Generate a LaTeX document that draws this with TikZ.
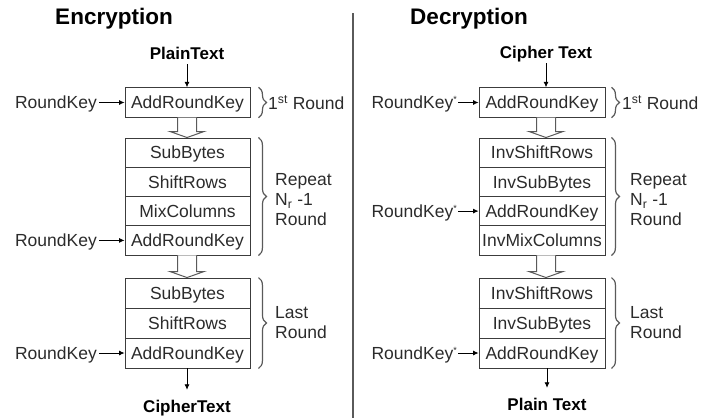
\documentclass[tikz,border=0pt]{standalone}
\usepackage{fontspec}
\setmainfont{Liberation Sans}
\usetikzlibrary{calc,arrows.meta,decorations.pathreplacing}

\definecolor{ink}{HTML}{2B2B2B}
\definecolor{boxgray}{HTML}{3C3C3C}
\definecolor{bracegray}{HTML}{5A5A5A}
\definecolor{arrowgray}{HTML}{5A5A5A}

\tikzset{
  stage/.style={draw=boxgray, line width=0.9pt, minimum width=125pt,
    minimum height=29.3pt, inner sep=0pt, text=ink,
    font=\fontsize{17.5}{20}\selectfont, text height=16pt, text depth=3.5pt},
  keylabel/.style={anchor=east, text=ink, inner ysep=0pt, inner xsep=2pt,
    font=\fontsize{17.5}{20}\selectfont, text height=16pt, text depth=3.5pt},
  io/.style={anchor=base, font=\bfseries\fontsize{17}{20}\selectfont,
    inner sep=1pt, text height=21pt, text depth=4pt},
  heading/.style={anchor=base, font=\bfseries\fontsize{22.5}{26}\selectfont},
  note/.style={anchor=west, align=left, text=ink, inner sep=0pt,
    font=\fontsize{17.5}{20}\selectfont},
  flow/.style={-{Latex[length=5.5pt,width=5pt]}, line width=0.8pt, draw=black},
  hollow/.style={draw=arrowgray, fill=white, line width=1pt, line join=miter},
  grp/.style={decorate, decoration={brace, amplitude=8pt}, draw=bracegray,
    line width=1.2pt},
  divider/.style={draw=bracegray, line width=1.4pt},
  seam/.style={draw=boxgray, line width=1.8pt},
}

% small raised star used on the decryption round keys
\newcommand\keystar{\raisebox{6pt}{\fontsize{9}{9}\selectfont *}}

% block arrow from the bottom of one stage to the top of the next
\newcommand\hollowarrow[3]{%
  \draw[hollow] let \p1=(#3 |- #1.south), \p2=(#3 |- #2.north) in
    (\x1-9.5pt,\y1) -- (\x1-9.5pt,\y2+6pt) -- (\x1-17pt,\y2+6pt) --
    (\x1,\y2) -- (\x1+17pt,\y2+6pt) -- (\x1+9.5pt,\y2+6pt) -- (\x1+9.5pt,\y1);}

\begin{document}
\begin{tikzpicture}[x=1pt,y=-1pt]
\useasboundingbox (0,0) rectangle (701,418);

% ---------------- Encryption ----------------
\node[heading] (enc) at (114,24) {Encryption};
\node[io] (ept) at (187,59) {PlainText};

\node[stage, minimum height=29.5pt] (e1) at (187.5,102.5) {AddRoundKey};

\node[stage, minimum height=29.25pt] (e2) at (187.5,152.6) {SubBytes};
\node[stage, minimum height=29.25pt] (e3) at (187.5,181.9) {ShiftRows};
\node[stage, minimum height=29.25pt] (e4) at (187.5,211.1) {MixColumns};
\node[stage, minimum height=29.25pt] (e5) at (187.5,240.4) {AddRoundKey};

\node[stage, minimum height=30pt] (e6) at (187.5,293) {SubBytes};
\node[stage, minimum height=30pt] (e7) at (187.5,323) {ShiftRows};
\node[stage, minimum height=30pt] (e8) at (187.5,353) {AddRoundKey};
\draw[seam] (e6.south west) -- (e6.south east);

\node[io] (ect) at (187,412) {CipherText};

\node[keylabel] (ke1) at (99,102.5) {RoundKey};
\node[keylabel] (ke5) at (99,240.4) {RoundKey};
\node[keylabel] (ke8) at (99,353) {RoundKey};

\draw[flow] (ept) -- (ept |- e1.north);
\draw[flow] (ke1) -- (e1);
\draw[flow] (ke5) -- (e5);
\draw[flow] (ke8) -- (e8);
\draw[flow] (ept |- e8.south) -- (ect);

\hollowarrow{e1}{e2}{ept}
\hollowarrow{e5}{e6}{ept}

\draw[grp] ($(e1.north east)+(8,0)$) -- ($(e1.south east)+(8,0)$);
\draw[grp] ($(e2.north east)+(8,0)$) -- ($(e5.south east)+(8,0)$);
\draw[grp] ($(e6.north east)+(8,0)$) -- ($(e8.south east)+(8,0)$);

\node[note] (en1) at (268,102.5) {1\textsuperscript{st} Round};
\node[note] (en2) at (275,200) {Repeat\\N\textsubscript{r} -1\\Round};
\node[note] (en3) at (275,323) {Last\\Round};

% ---------------- divider ----------------
\draw[divider] (353,13) -- (353,418);

% ---------------- Decryption ----------------
\node[heading] (dec) at (469,24) {Decryption};
\node[io] (dct) at (546,58) {Cipher Text};

\node[stage, minimum width=126pt, minimum height=29.5pt] (d1) at (542,102.5) {AddRoundKey};

\node[stage, minimum width=126pt, minimum height=29.25pt] (d2) at (542,152.6) {InvShiftRows};
\node[stage, minimum width=126pt, minimum height=29.25pt] (d3) at (542,181.9) {InvSubBytes};
\node[stage, minimum width=126pt, minimum height=29.25pt] (d4) at (542,211.1) {AddRoundKey};
\node[stage, minimum width=126pt, minimum height=29.25pt] (d5) at (542,240.4) {InvMixColumns};

\node[stage, minimum width=126pt, minimum height=30pt] (d6) at (542,293) {InvShiftRows};
\node[stage, minimum width=126pt, minimum height=30pt] (d7) at (542,323) {InvSubBytes};
\node[stage, minimum width=126pt, minimum height=30pt] (d8) at (542,353) {AddRoundKey};
\draw[seam] (d6.south west) -- (d6.south east);

\node[io] (dpt) at (547,410) {Plain Text};

\node[keylabel, inner xsep=1pt] (kd1) at (458,102.5) {RoundKey\keystar};
\node[keylabel, inner xsep=1pt] (kd4) at (458,211.1) {RoundKey\keystar};
\node[keylabel, inner xsep=1pt] (kd8) at (458,353) {RoundKey\keystar};

\draw[flow] (dct) -- (dct |- d1.north);
\draw[flow] (kd1) -- (d1);
\draw[flow] (kd4) -- (d4);
\draw[flow] (kd8) -- (d8);
\draw[flow] (dpt |- d8.south) -- (dpt);

\hollowarrow{d1}{d2}{dct}
\hollowarrow{d5}{d6}{dct}

\draw[grp] ($(d1.north east)+(6,0)$) -- ($(d1.south east)+(6,0)$);
\draw[grp] ($(d2.north east)+(6,0)$) -- ($(d5.south east)+(6,0)$);
\draw[grp] ($(d6.north east)+(6,0)$) -- ($(d8.south east)+(6,0)$);

\node[note] (dn1) at (622,102.5) {1\textsuperscript{st} Round};
\node[note] (dn2) at (630,200) {Repeat\\N\textsubscript{r} -1\\Round};
\node[note] (dn3) at (630,323) {Last\\Round};
\end{tikzpicture}
\end{document}
